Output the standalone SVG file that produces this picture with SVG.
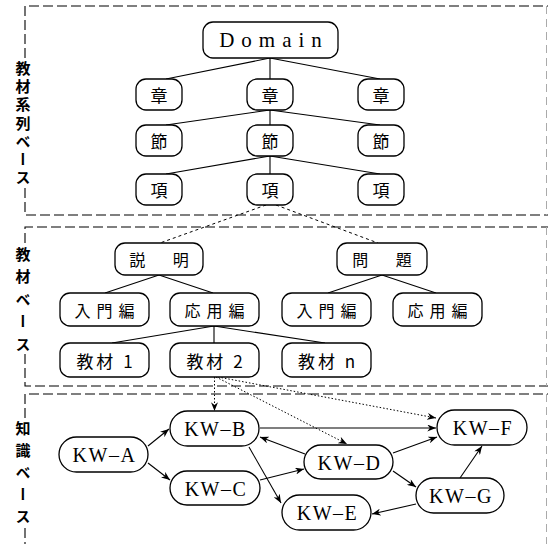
<svg xmlns="http://www.w3.org/2000/svg" width="548" height="544" viewBox="0 0 548 544">
<style>
.panel{fill:none;stroke:#000;stroke-width:1.1;stroke-dasharray:10 4}
.faint{fill:none;stroke:#aaa;stroke-width:1;stroke-dasharray:8 5}
.box{fill:#fff;stroke:#000;stroke-width:1.3}
.ln{stroke:#000;stroke-width:1.1;fill:none}
.dash{stroke:#000;stroke-width:1;fill:none;stroke-dasharray:3 3}
.dot{stroke:#000;stroke-width:1;fill:none;stroke-dasharray:1.5 2}
.jp{font-family:"Noto Sans CJK JP","Noto Sans",sans-serif;font-size:16px;text-anchor:middle;dominant-baseline:central;fill:#000}
.ser{font-family:"Liberation Serif","Times New Roman",serif;text-anchor:middle;dominant-baseline:central;fill:#000}
.kw{font-size:20px;letter-spacing:1.5px}
.side{font-family:"Noto Sans CJK JP","Noto Sans",sans-serif;font-size:15px;font-weight:bold;writing-mode:vertical-rl;fill:#000}
</style>
<defs>
<marker id="ah" viewBox="0 0 10 8" refX="10" refY="4" markerWidth="9" markerHeight="7" orient="auto" markerUnits="userSpaceOnUse">
<path d="M0,0 L10,4 L0,8 L3,4 z" fill="#000"/>
</marker>
</defs>
<rect width="548" height="544" fill="#fff"/>
<g id="panels">
<path class="panel" d="M25,58 V6 H548 M25,188 V215 H548"/>
<path class="faint" d="M546.5,6 V215"/>
<path class="panel" d="M25,243 V227 H548 M25,354 V386 H548"/>
<path class="faint" d="M546.5,227 V386"/>
<path class="panel" d="M25,418 V394 H548 M25,528 V544"/>
<path class="faint" d="M546.5,394 V544"/>
</g>
<g id="side-labels">
<text class="side" x="23" y="60.5" style="letter-spacing:3.3px">教材系列ベース</text>
<text class="side" x="23" y="246.5" style="letter-spacing:7.5px">教材ベース</text>
<text class="side" x="23" y="420.5" style="letter-spacing:7.2px">知識ベース</text>
</g>
<g id="connectors">
<path class="ln" d="M270,58 L166,79 M270,58 V79 M270,58 L380,79"/>
<path class="ln" d="M270,110 L166,125 M270,110 V125 M270,110 L380,125"/>
<path class="ln" d="M270,156 L166,174 M270,156 V174 M270,156 L380,174"/>
<path class="dash" d="M266,205 L160,243 M276,205 L378,243"/>
<path class="ln" d="M159,275 L105,293 M159,275 L213,293"/>
<path class="ln" d="M382,275 L328,293 M382,275 L436,293"/>
<path class="ln" d="M214,326 L112,343 M214,326 V343 M214,326 L325,343"/>
<g marker-end="url(#ah)">
<path class="dot" d="M214.5,377 V411"/>
<path class="dot" d="M216,377 L347,444"/>
<path class="dot" d="M218,377 L436,418"/>
<path class="ln" d="M148,446 L169,429"/>
<path class="ln" d="M148,463 L170,480"/>
<path class="ln" d="M260,428 H436"/>
<path class="ln" d="M305,454 L260,437"/>
<path class="ln" d="M249,447 L281,503"/>
<path class="ln" d="M260,480 L304,469"/>
<path class="ln" d="M393,453 L437,437"/>
<path class="ln" d="M393,471 L416,487"/>
<path class="ln" d="M460,478 L482,446"/>
<path class="ln" d="M416,504 L372,514"/>
</g>
</g>
<g id="n-domain"><rect class="box" x="203" y="22" width="135" height="36" rx="10"/><text class="ser" x="274" y="40" style="font-size:21px;letter-spacing:7px">Domain</text></g>
<g id="n-sho1"><rect class="box" x="136" y="79" width="46" height="31" rx="10"/><text class="jp" x="159" y="94.5" style="font-size:17px">章</text></g>
<g id="n-sho2"><rect class="box" x="247" y="79" width="46" height="31" rx="10"/><text class="jp" x="270" y="94.5" style="font-size:17px">章</text></g>
<g id="n-sho3"><rect class="box" x="358" y="79" width="46" height="31" rx="10"/><text class="jp" x="381" y="94.5" style="font-size:17px">章</text></g>
<g id="n-setsu1"><rect class="box" x="136" y="125" width="46" height="31" rx="10"/><text class="jp" x="159" y="140.5" style="font-size:17px">節</text></g>
<g id="n-setsu2"><rect class="box" x="247" y="125" width="46" height="31" rx="10"/><text class="jp" x="270" y="140.5" style="font-size:17px">節</text></g>
<g id="n-setsu3"><rect class="box" x="358" y="125" width="46" height="31" rx="10"/><text class="jp" x="381" y="140.5" style="font-size:17px">節</text></g>
<g id="n-kou1"><rect class="box" x="136" y="174" width="46" height="31" rx="10"/><text class="jp" x="159" y="189.5" style="font-size:17px">項</text></g>
<g id="n-kou2"><rect class="box" x="247" y="174" width="46" height="31" rx="10"/><text class="jp" x="270" y="189.5" style="font-size:17px">項</text></g>
<g id="n-kou3"><rect class="box" x="358" y="174" width="46" height="31" rx="10"/><text class="jp" x="381" y="189.5" style="font-size:17px">項</text></g>
<g id="n-setsumei"><rect class="box" x="115" y="243" width="88" height="32" rx="10"/><text class="jp" x="165" y="259" style="letter-spacing:12px">説 明</text></g>
<g id="n-mondai"><rect class="box" x="337" y="243" width="90" height="32" rx="10"/><text class="jp" x="388" y="259" style="letter-spacing:12px">問 題</text></g>
<g id="n-nyumon1"><rect class="box" x="60" y="293" width="89" height="33" rx="10"/><text class="jp" x="107.5" y="309.5" style="letter-spacing:6px">入門編</text></g>
<g id="n-oyo1"><rect class="box" x="170" y="293" width="89" height="33" rx="10"/><text class="jp" x="217.5" y="309.5" style="letter-spacing:6px">応用編</text></g>
<g id="n-nyumon2"><rect class="box" x="282" y="293" width="89" height="33" rx="10"/><text class="jp" x="329.5" y="309.5" style="letter-spacing:6px">入門編</text></g>
<g id="n-oyo2"><rect class="box" x="393" y="293" width="89" height="33" rx="10"/><text class="jp" x="440.5" y="309.5" style="letter-spacing:6px">応用編</text></g>
<g id="n-kyozai1"><rect class="box" x="60" y="343" width="89" height="34" rx="10"/><text class="jp" x="106" y="360" style="font-size:17px;letter-spacing:3px">教材 1</text></g>
<g id="n-kyozai2"><rect class="box" x="170" y="343" width="89" height="34" rx="10"/><text class="jp" x="216" y="360" style="font-size:17px;letter-spacing:3px">教材 2</text></g>
<g id="n-kyozain"><rect class="box" x="282" y="343" width="89" height="34" rx="10"/><text class="jp" x="328" y="360" style="font-size:17px;letter-spacing:3px">教材 n</text></g>
<g id="n-kwa"><rect class="box" x="59" y="437" width="89" height="35" rx="17.5"/><text class="ser kw" x="104.5" y="455">KW–A</text></g>
<g id="n-kwb"><rect class="box" x="170" y="411" width="89" height="35" rx="17.5"/><text class="ser kw" x="215.5" y="429">KW–B</text></g>
<g id="n-kwc"><rect class="box" x="170" y="471" width="90" height="34" rx="17"/><text class="ser kw" x="216" y="488.5">KW–C</text></g>
<g id="n-kwd"><rect class="box" x="304" y="445" width="89" height="34" rx="17"/><text class="ser kw" x="349.5" y="462.5">KW–D</text></g>
<g id="n-kwe"><rect class="box" x="282" y="495" width="89" height="35" rx="17.5"/><text class="ser kw" x="327.5" y="513">KW–E</text></g>
<g id="n-kwf"><rect class="box" x="437" y="410" width="90" height="35" rx="17.5"/><text class="ser kw" x="483" y="428">KW–F</text></g>
<g id="n-kwg"><rect class="box" x="416" y="478" width="88" height="35" rx="17.5"/><text class="ser kw" x="461" y="496">KW–G</text></g>
</svg>
